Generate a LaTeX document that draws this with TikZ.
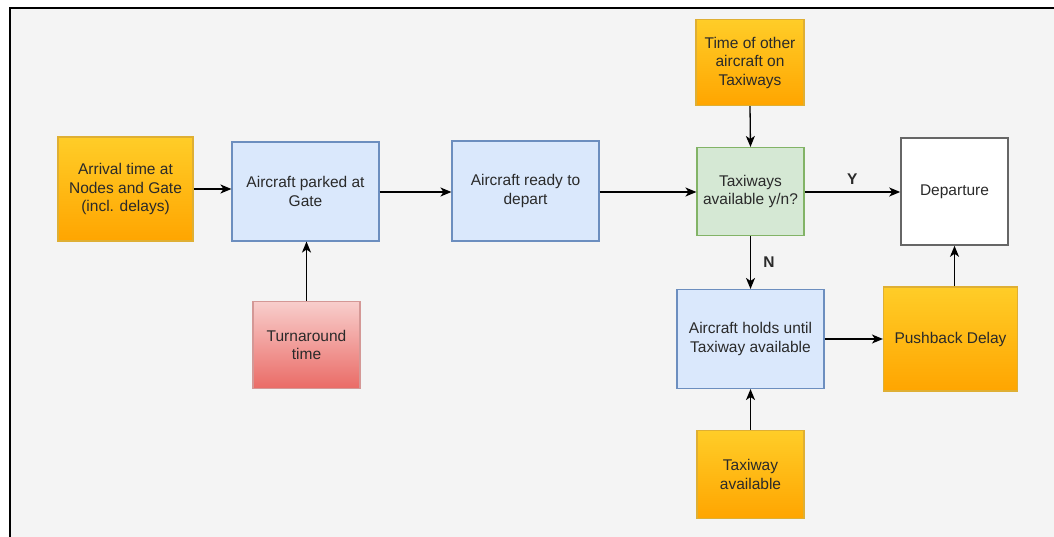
\documentclass[tikz,border=0pt]{standalone}
\usepackage{fontspec}
\setmainfont{Liberation Sans}
\usetikzlibrary{arrows.meta}
\definecolor{bgfill}{HTML}{F4F4F4}
\definecolor{orgtop}{HTML}{FFCD28}
\definecolor{orgbot}{HTML}{FFA500}
\definecolor{orgline}{HTML}{D79B00}
\definecolor{bluefill}{HTML}{DAE8FC}
\definecolor{blueline}{HTML}{6C8EBF}
\definecolor{redtop}{HTML}{F8CECC}
\definecolor{redbot}{HTML}{EA6B66}
\definecolor{redline}{HTML}{B85450}
\definecolor{greenfill}{HTML}{D5E8D4}
\definecolor{greenline}{HTML}{82B366}
\definecolor{greyline}{HTML}{666666}
\definecolor{txt}{HTML}{2A2A2A}
\tikzset{
  box/.style={rectangle, line width=1.1pt, align=center, text=txt,
    font=\fontsize{15.5}{18.5}\selectfont, inner sep=2pt},
  orangebox/.style={box, draw=orgline!80, top color=orgtop, bottom color=orgbot},
  bluebox/.style={box, draw=blueline, fill=bluefill},
  redbox/.style={box, draw=redline!60, top color=redtop, bottom color=redbot},
  greenbox/.style={box, draw=greenline, fill=greenfill},
  whitebox/.style={box, draw=greyline, fill=white, line width=1.6pt},
  flow/.style={line width=1.3pt, draw=black,
    -{Stealth[length=11pt, width=9pt, inset=3pt]}},
  answer/.style={font=\bfseries\fontsize{15.5}{18}\selectfont, text=txt}
}
\begin{document}
\begin{tikzpicture}[x=1pt, y=-1pt]
  \useasboundingbox (0,0) rectangle (1054,537);
  % canvas with its top and left edges
  \fill[bgfill] (10,8) rectangle (1054,537);
  \draw[line width=1.5pt, black] (10,537) -- (10,8) -- (1054,8);

  % boxes
  \node[orangebox, minimum width=135pt, minimum height=104pt] (arr) at (125.5,189)
    {Arrival time at\\Nodes and Gate\\(incl. delays)};
  \node[bluebox, minimum width=147pt, minimum height=99pt] (park) at (305.5,191.5)
    {Aircraft parked at\\Gate};
  \node[bluebox, minimum width=147pt, minimum height=100pt] (ready) at (525.5,191)
    {Aircraft ready to\\depart};
  \node[redbox, minimum width=107pt, minimum height=87pt] (turn) at (306.5,345)
    {Turnaround\\time};
  \node[orangebox, minimum width=108pt, minimum height=86pt] (other) at (750,62.5)
    {Time of other\\aircraft on\\Taxiways};
  \node[greenbox, minimum width=107pt, minimum height=88pt] (taxi) at (750.5,191.5)
    {Taxiways\\available y/n?};
  \node[whitebox, minimum width=107pt, minimum height=107pt] (dep) at (954.5,191.5)
    {Departure};
  \node[bluebox, minimum width=147pt, minimum height=99pt] (hold) at (750.5,339)
    {Aircraft holds until\\Taxiway available};
  \node[orangebox, minimum width=134pt, minimum height=104pt] (push) at (950.5,339)
    {Pushback Delay};
  \node[orangebox, minimum width=107pt, minimum height=88pt] (tavail) at (750.5,474.5)
    {Taxiway\\available};

  % connectors
  \draw[flow] (arr.east |- 0,189) -- (park.west |- 0,189);
  \draw[flow] (park.east |- 0,192) -- (ready.west |- 0,192);
  \draw[flow] (ready.east |- 0,192) -- (taxi.west |- 0,192);
  \draw[flow] (turn.north) -- (turn.north |- park.south);
  \draw[flow] (other.south) -- (taxi.north);
  \draw[flow] (taxi.east |- 0,192) -- node[answer, above=4pt] {Y} (dep.west |- 0,192);
  \draw[flow] (taxi.south) -- node[answer, right=9pt] {N} (taxi.south |- hold.north);
  \draw[flow] (tavail.north) -- (tavail.north |- hold.south);
  \draw[flow] (hold.east |- 0,339) -- (push.west |- 0,339);
  \draw[flow] (dep.south |- push.north) -- (dep.south);
\end{tikzpicture}
\end{document}
